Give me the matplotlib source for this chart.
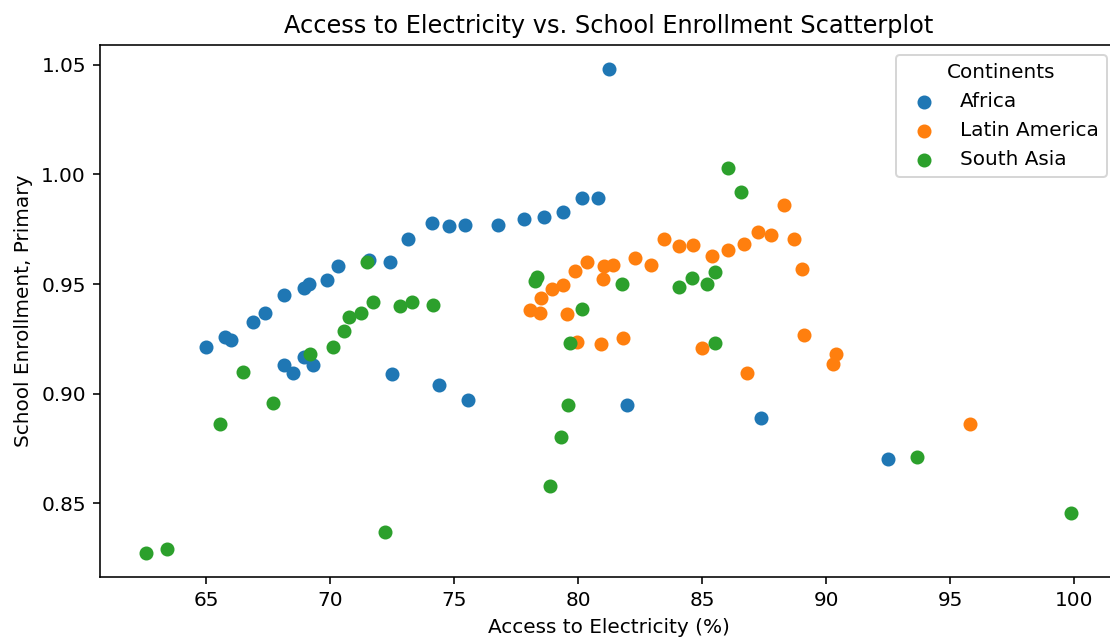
import numpy as np
import matplotlib
matplotlib.use('Agg')
import matplotlib.pyplot as plt

# access to electricity (%) and primary school enrollment, per continent
africa_x = [65.0, 65.74, 66.0, 66.9, 67.37, 68.13, 68.93, 69.16, 69.86, 70.33,
            71.57, 72.42, 73.12, 74.1, 74.8, 75.42, 76.76, 77.81, 78.62, 79.38,
            80.13, 80.78, 81.25, 68.13, 68.48, 68.95, 69.3, 72.48, 74.4, 75.57,
            81.95, 87.35, 92.5]
africa_y = [0.9215, 0.926, 0.9246, 0.9325, 0.937, 0.945, 0.948, 0.950, 0.952, 0.958,
            0.961, 0.960, 0.9705, 0.978, 0.9763, 0.9769, 0.9769, 0.9795, 0.9807, 0.9828,
            0.9894, 0.9894, 1.048, 0.913, 0.9096, 0.9166, 0.913, 0.909, 0.904, 0.897,
            0.895, 0.889, 0.870]

latam_x = [78.05, 78.46, 78.51, 78.92, 79.38, 79.55, 79.85, 80.36, 81.0, 81.05,
           81.41, 82.28, 82.91, 83.44, 84.06, 84.63, 85.39, 86.04, 86.67, 87.26,
           87.77, 88.3, 88.7, 89.0, 79.96, 80.93, 81.8, 85.0, 89.1, 90.37,
           90.26, 86.8, 95.8]
latam_y = [0.9383, 0.937, 0.9436, 0.9477, 0.9495, 0.9364, 0.9561, 0.9599, 0.9522, 0.958,
           0.9586, 0.9618, 0.9586, 0.9704, 0.9672, 0.9676, 0.963, 0.9657, 0.9682, 0.9736,
           0.9722, 0.986, 0.9704, 0.9567, 0.9235, 0.9225, 0.9253, 0.9206, 0.9267, 0.9182,
           0.9136, 0.9096, 0.886]

sasia_x = [62.58, 63.43, 65.55, 66.5, 67.69, 69.2, 70.1, 70.57, 70.77, 71.23,
           71.49, 71.73, 72.2, 72.83, 73.31, 74.14, 78.25, 78.35, 78.84, 79.3,
           79.6, 79.66, 80.13, 81.75, 84.06, 84.58, 85.17, 85.52, 85.52, 86.04,
           86.56, 93.65, 99.85]
sasia_y = [0.8274, 0.8292, 0.886, 0.9098, 0.8958, 0.918, 0.9215, 0.9285, 0.935, 0.9367,
           0.960, 0.942, 0.837, 0.940, 0.942, 0.9404, 0.9516, 0.953, 0.858, 0.880,
           0.8947, 0.923, 0.9384, 0.950, 0.9486, 0.9529, 0.950, 0.9553, 0.9233, 1.003,
           0.9918, 0.871, 0.8455]

fig = plt.figure(figsize=(1110/144, 639/144), dpi=144)
# the right spine sits just past the image edge, as in the original screenshot
plt.subplots_adjust(left=100/1110, right=1117/1110, top=1-45/639, bottom=1-577/639)

plt.scatter(africa_x, africa_y, label='Africa')
plt.scatter(latam_x, latam_y, label='Latin America')
plt.scatter(sasia_x, sasia_y, label='South Asia')

plt.title('Access to Electricity vs. School Enrollment Scatterplot')
plt.xlabel('Access to Electricity (%)')
plt.ylabel('School Enrollment, Primary')
plt.legend(title='Continents', loc='upper right')

plt.savefig('out.png', dpi=144)
